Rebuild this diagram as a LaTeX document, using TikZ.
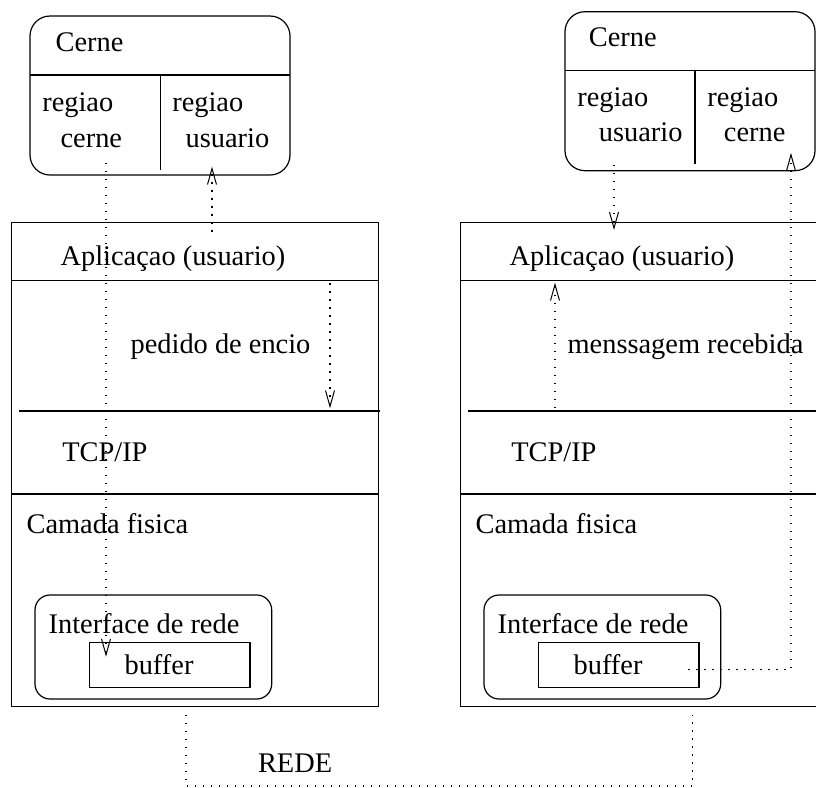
\documentclass[tikz,border=0pt]{standalone}
\usepackage{fontspec}
\setmainfont{Liberation Serif}
\usetikzlibrary{arrows.meta}

\begin{document}
\begin{tikzpicture}[x=0.5pt,y=-0.5pt,line width=0.6pt,font=\fontsize{14.2}{17}\selectfont,
  txt/.style={anchor=base west,inner sep=0pt},
  pont/.style={line width=0.7pt,dash pattern=on 0.7pt off 3.3pt},
  seta/.style={pont,-{Straight Barb[length=8pt,width=4.5pt,line width=0.5pt]}}]
 \useasboundingbox (0,0) rectangle (816,788);
 % cerne do emissor
 \draw[rounded corners=10pt] (30,16) rectangle (290,175);
 \draw (30,75) -- (290,75); \draw (160.7,75) -- (160.7,170);
 \node[txt] (cerneA) at (55,51.7) {Cerne};
 \node[txt] (regKA) at (41.7,111.7) {regiao}; \node[txt] (kerA) at (60,147.7) {cerne};
 \node[txt] (regUA) at (171.7,111.7) {regiao}; \node[txt] (usuA) at (185,147.7) {usuario};
 % cerne do receptor
 \draw[rounded corners=10pt] (565,11.7) rectangle (815,170.7);
 \draw (565,70.7) -- (815,70.7); \draw (695,70.7) -- (695,164);
 \node[txt] (cerneB) at (588.3,46.7) {Cerne};
 \node[txt] (regUB) at (576.7,106) {regiao}; \node[txt] (usuB) at (598.3,141.7) {usuario};
 \node[txt] (regKB) at (706.7,106) {regiao}; \node[txt] (kerB) at (723.3,141.7) {cerne};
 % pilhas
 \foreach \s/\p in {0/A,449/B}{
  \begin{scope}[xshift=\s*0.5pt]
   \draw (11.7,222.5) rectangle (378.3,706.7);
   \draw (11.7,280.7) -- (378.3,280.7); \draw (19,411) -- (380,411); \draw (11.7,494) -- (378.3,494);
   \node[txt] (apl\p) at (60,265) {Aplicaçao (usuario)};
   \node[txt] (tcp\p) at (61.7,461.7) {TCP/IP};
   \node[txt] (fis\p) at (26,533) {Camada fisica};
   \draw[rounded corners=7.5pt] (35,595) rectangle (271.7,699);
   \node[txt] (int\p) at (48,633) {Interface de rede};
   \draw (89.3,642.3) rectangle (250,687.7);
   \node[txt] (buf\p) at (124,674.3) {buffer};
  \end{scope}}
 \node[txt] (pedido) at (130,353) {pedido de encio};
 \node[txt] (msg) at (567,353) {menssagem recebida};
 \node[txt] (rede) at (257.4,772.7) {REDE};
 % pontos das setas
 \coordinate (kA) at (106,163);   \coordinate (bA) at (106,656.7);
 \coordinate (aA) at (212,231.7); \coordinate (uA) at (212,166.7);
 \coordinate (pA) at (330,283.3); \coordinate (tA) at (330,408.3);
 \coordinate (uB) at (614,165);   \coordinate (aB) at (614,230);
 \coordinate (tB) at (555,408);   \coordinate (pB) at (555,282.7);
 \coordinate (bB) at (688.3,669.3); \coordinate (kB) at (791,153);
 \coordinate (rA) at (186,715);   \coordinate (rB) at (692.6,715);
 % setas
 \draw[seta] (kA) -- (bA); \draw[seta] (aA) -- (uA); \draw[seta] (pA) -- (tA);
 \draw[seta] (uB) -- (aB); \draw[seta] (tB) -- (pB); \draw[seta] (bB) -| (kB);
 \draw[pont] (rA) -- ++(0,71) -| (rB);
\end{tikzpicture}
\end{document}
